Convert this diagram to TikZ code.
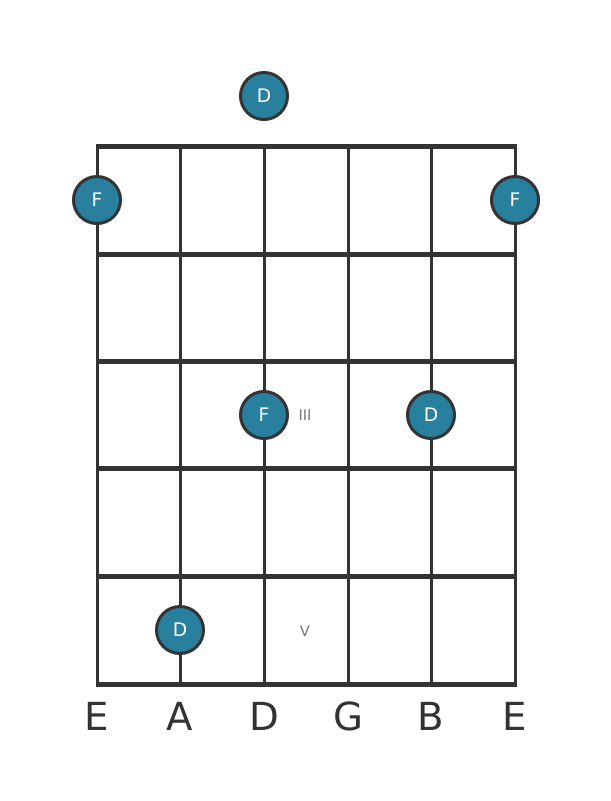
\documentclass[tikz,border=0pt]{standalone}
\usepackage{fontspec}
\setmainfont{DejaVu Sans}
\usepackage{xcolor}
\definecolor{dotblue}{RGB}{41,128,158}
\definecolor{ink}{RGB}{51,51,51}
\definecolor{marker}{RGB}{120,120,120}

\begin{document}
\begin{tikzpicture}[x=0.75pt, y=-0.75pt, fret/.style={ink, line width=3.75pt}, string/.style={ink, line width=2.25pt}, note/.style={circle, draw=ink, line width=2.25pt, fill=dotblue, minimum size=35.25pt, inner sep=0pt, text=white, font=\fontsize{14}{14}\selectfont}, tuning/.style={text=ink, font=\fontsize{29}{29}\selectfont}, fretnum/.style={text=marker, font=\fontsize{11}{11}\selectfont}]
\useasboundingbox (0,0) rectangle (611,801);
% string ends
\coordinate (t1) at (97,146);
\coordinate (t2) at (180,146);
\coordinate (t3) at (264,146);
\coordinate (t4) at (348,146);
\coordinate (t5) at (431,146);
\coordinate (t6) at (515,146);
\coordinate (b1) at (97,684);
\coordinate (b2) at (180,684);
\coordinate (b3) at (264,684);
\coordinate (b4) at (348,684);
\coordinate (b5) at (431,684);
\coordinate (b6) at (515,684);
% fret ends
\coordinate (l0) at (95.5,146);
\coordinate (r0) at (516.5,146);
\coordinate (l1) at (95.5,254);
\coordinate (r1) at (516.5,254);
\coordinate (l2) at (95.5,361);
\coordinate (r2) at (516.5,361);
\coordinate (l3) at (95.5,468);
\coordinate (r3) at (516.5,468);
\coordinate (l4) at (95.5,576);
\coordinate (r4) at (516.5,576);
\coordinate (l5) at (95.5,684);
\coordinate (r5) at (516.5,684);
\path
(t1) edge[string] (b1)
(t2) edge[string] (b2)
(t3) edge[string] (b3)
(t4) edge[string] (b4)
(t5) edge[string] (b5)
(t6) edge[string] (b6)
(l0) edge[fret] (r0)
(l1) edge[fret] (r1)
(l2) edge[fret] (r2)
(l3) edge[fret] (r3)
(l4) edge[fret] (r4)
(l5) edge[fret] (r5);
% notes
\node[note] (d0) at (264,96) {D};
\node[note] (f1) at (97,200) {F};
\node[note] (f6) at (515,200) {F};
\node[note] (f3) at (264,415) {F};
\node[note] (d5) at (431,415) {D};
\node[note] (d2) at (180,630) {D};
% fret numbers
\node[fretnum] (iii) at (305,415) {III};
\node[fretnum] (v) at (305,631) {V};
% string names
\node[tuning] (n1) at (97,716) {E};
\node[tuning] (n2) at (180,716) {A};
\node[tuning] (n3) at (264,716) {D};
\node[tuning] (n4) at (348,716) {G};
\node[tuning] (n5) at (431,716) {B};
\node[tuning] (n6) at (515,716) {E};
\end{tikzpicture}
\end{document}
